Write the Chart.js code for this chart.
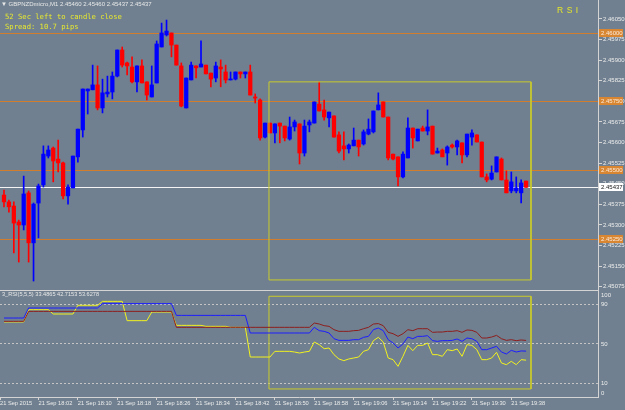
<!DOCTYPE html>
<html>
<head>
<meta charset="utf-8">
<script src="https://cdn.jsdelivr.net/npm/chart.js@4.4.0/dist/chart.umd.min.js"></script>
<style>
  html, body { margin: 0; padding: 0; background: #708090; }
  #wrap { position: relative; width: 625px; height: 410px; overflow: hidden; background: #708090; font-family: "Liberation Sans", Arial, sans-serif; }
  canvas { position: absolute; left: 0; }
  #main { top: 0; }
  #rsi { top: 289px; }
  .txt { position: absolute; white-space: nowrap; line-height: 1; }
  #title { left: 1px; top: 1px; font-size: 6px; color: #e8e8e8; }
  .info { left: 5px; font-family: "DejaVu Sans Mono", "Liberation Mono", monospace; font-size: 7.2px; color: #e8e830; }
  #rsiTag { left: 557px; top: 6px; font-size: 8.5px; letter-spacing: 3.5px; color: #e6e628; }
  #rsiTitle { left: 2px; top: 292px; font-size: 5.6px; color: #e8e8e8; }
</style>
</head>
<body>
<div id="wrap">
  <canvas id="main" width="625" height="292"></canvas>
  <canvas id="rsi" width="625" height="121"></canvas>
  <div class="txt" id="title">&#9660; GBPNZDmicro,M1 2.45460 2.45460 2.45437 2.45437</div>
  <div class="txt info" style="top:13px">52 Sec left to candle close</div>
  <div class="txt info" style="top:23px">Spread: 10.7 pips</div>
  <div class="txt" id="rsiTag">RSI</div>
  <div class="txt" id="rsiTitle">3_RSI(5,5,5) 33.4865 42.7153 53.6278</div>
</div>
<script>
// M1 bars, first bar 17:55
const firstBar = '17:55';

const opens = [
  2.45409, 2.45384, 2.45369, 2.45311, 2.45300, 2.45417, 2.45235, 2.45380, 2.45446, 2.45551,
  2.45580, 2.45540, 2.45526, 2.45406, 2.45435, 2.45548, 2.45646, 2.45788, 2.45792, 2.45810,
  2.45726, 2.45777, 2.45784, 2.45842, 2.45937, 2.45890, 2.45875, 2.45821, 2.45879, 2.45821,
  2.45766, 2.45817, 2.45948, 2.45992, 2.45999, 2.45955, 2.45879, 2.45726, 2.45828, 2.45879,
  2.45875, 2.45882, 2.45853, 2.45835, 2.45875, 2.45857, 2.45828, 2.45831, 2.45857, 2.45850,
  2.45857, 2.45766, 2.45755, 2.45620, 2.45671, 2.45635, 2.45671, 2.45660, 2.45613, 2.45657,
  2.45668, 2.45562, 2.45664, 2.45671, 2.45740, 2.45719, 2.45690, 2.45697, 2.45628, 2.45588,
  2.45577, 2.45588, 2.45609, 2.45595, 2.45631, 2.45639, 2.45719, 2.45748, 2.45693, 2.45558,
  2.45548, 2.45475, 2.45544, 2.45653, 2.45606, 2.45653, 2.45642, 2.45660, 2.45562, 2.45573,
  2.45562, 2.45591, 2.45584, 2.45599, 2.45555, 2.45620, 2.45628, 2.45602, 2.45475, 2.45467,
  2.45493, 2.45540, 2.45464, 2.45424, 2.45424, 2.45417, 2.45460
];
const highs = [
  2.45427, 2.45391, 2.45384, 2.45318, 2.45478, 2.45424, 2.45380, 2.45449, 2.45588, 2.45588,
  2.45584, 2.45609, 2.45529, 2.45446, 2.45551, 2.45649, 2.45795, 2.45795, 2.45882, 2.45879,
  2.45831, 2.45842, 2.45857, 2.45937, 2.45948, 2.45893, 2.45912, 2.45879, 2.45901, 2.45821,
  2.45879, 2.45970, 2.46035, 2.46046, 2.45999, 2.45955, 2.45890, 2.45835, 2.45893, 2.45879,
  2.45970, 2.45882, 2.45853, 2.45893, 2.45901, 2.45882, 2.45857, 2.45857, 2.45857, 2.45857,
  2.45882, 2.45777, 2.45759, 2.45671, 2.45671, 2.45668, 2.45671, 2.45660, 2.45693, 2.45682,
  2.45668, 2.45682, 2.45682, 2.45748, 2.45821, 2.45755, 2.45711, 2.45697, 2.45639, 2.45639,
  2.45595, 2.45653, 2.45609, 2.45646, 2.45686, 2.45715, 2.45781, 2.45748, 2.45693, 2.45558,
  2.45548, 2.45566, 2.45690, 2.45653, 2.45649, 2.45660, 2.45719, 2.45660, 2.45580, 2.45577,
  2.45588, 2.45595, 2.45609, 2.45599, 2.45631, 2.45646, 2.45628, 2.45602, 2.45486, 2.45515,
  2.45548, 2.45544, 2.45497, 2.45493, 2.45475, 2.45464, 2.45460
];
const lows = [
  2.45366, 2.45347, 2.45198, 2.45165, 2.45282, 2.45165, 2.45096, 2.45253, 2.45438, 2.45544,
  2.45457, 2.45493, 2.45395, 2.45376, 2.45435, 2.45529, 2.45620, 2.45704, 2.45792, 2.45719,
  2.45708, 2.45766, 2.45759, 2.45839, 2.45875, 2.45846, 2.45817, 2.45784, 2.45817, 2.45755,
  2.45766, 2.45817, 2.45948, 2.45988, 2.45912, 2.45882, 2.45730, 2.45726, 2.45828, 2.45835,
  2.45875, 2.45850, 2.45803, 2.45821, 2.45803, 2.45817, 2.45828, 2.45828, 2.45835, 2.45835,
  2.45773, 2.45744, 2.45609, 2.45617, 2.45635, 2.45599, 2.45599, 2.45606, 2.45609, 2.45642,
  2.45522, 2.45551, 2.45639, 2.45671, 2.45715, 2.45682, 2.45657, 2.45620, 2.45562, 2.45537,
  2.45562, 2.45588, 2.45551, 2.45591, 2.45628, 2.45635, 2.45719, 2.45693, 2.45537, 2.45537,
  2.45442, 2.45471, 2.45544, 2.45580, 2.45606, 2.45642, 2.45628, 2.45558, 2.45562, 2.45548,
  2.45518, 2.45580, 2.45555, 2.45526, 2.45548, 2.45591, 2.45602, 2.45475, 2.45457, 2.45464,
  2.45493, 2.45464, 2.45417, 2.45417, 2.45417, 2.45380, 2.45437
];
const closes = [
  2.45384, 2.45366, 2.45307, 2.45300, 2.45413, 2.45235, 2.45376, 2.45442, 2.45558, 2.45573,
  2.45533, 2.45526, 2.45406, 2.45438, 2.45551, 2.45649, 2.45795, 2.45795, 2.45810, 2.45726,
  2.45781, 2.45784, 2.45842, 2.45937, 2.45882, 2.45879, 2.45821, 2.45879, 2.45817, 2.45773,
  2.45810, 2.45959, 2.45999, 2.46006, 2.45955, 2.45882, 2.45733, 2.45835, 2.45882, 2.45872,
  2.45886, 2.45850, 2.45831, 2.45879, 2.45868, 2.45828, 2.45831, 2.45857, 2.45850, 2.45857,
  2.45773, 2.45762, 2.45617, 2.45671, 2.45635, 2.45668, 2.45660, 2.45617, 2.45657, 2.45675,
  2.45562, 2.45660, 2.45675, 2.45748, 2.45715, 2.45693, 2.45711, 2.45620, 2.45569, 2.45577,
  2.45591, 2.45609, 2.45584, 2.45639, 2.45649, 2.45715, 2.45737, 2.45693, 2.45544, 2.45540,
  2.45475, 2.45558, 2.45653, 2.45617, 2.45649, 2.45642, 2.45657, 2.45558, 2.45569, 2.45548,
  2.45584, 2.45584, 2.45606, 2.45555, 2.45631, 2.45635, 2.45602, 2.45475, 2.45464, 2.45489,
  2.45548, 2.45464, 2.45417, 2.45457, 2.45435, 2.45453, 2.45437
];

// 3_RSI(5,5,5)
const rsi1 = [
  72.5, 72.5, 72.5, 72.5, 72.5, 85.0, 85.0, 85.0, 85.0, 85.0,
  80.6, 80.6, 80.6, 80.6, 80.6, 89.5, 89.5, 89.5, 89.5, 89.5,
  93.5, 93.5, 93.5, 93.5, 93.5, 73.8, 73.8, 73.8, 73.8, 73.8,
  82.6, 82.6, 82.6, 82.6, 82.6, 69.0, 69.0, 69.0, 69.0, 69.0,
  69.0, 68.0, 68.0, 68.0, 68.0, 68.0, 67.0, 67.0, 67.0, 67.0,
  36.7, 36.7, 36.7, 36.7, 36.7, 42.5, 42.5, 42.5, 42.5, 41.8,
  40.8, 41.8, 42.5, 52.0, 49.3, 45.2, 45.9, 39.1, 34.7, 33.0,
  34.7, 35.7, 36.7, 42.5, 44.2, 53.4, 56.8, 52.0, 35.7, 34.0,
  27.2, 37.4, 48.6, 43.2, 48.6, 48.6, 51.0, 39.1, 39.1, 37.4,
  44.2, 43.2, 44.9, 37.4, 49.3, 48.6, 44.2, 34.0, 34.0, 35.7,
  41.5, 30.6, 28.9, 32.3, 28.9, 34.0, 33.4865
];
const rsi2 = [
  76.5, 76.5, 76.5, 76.5, 76.5, 86.7, 86.7, 86.7, 86.7, 86.7,
  86.7, 86.7, 86.7, 86.7, 86.7, 86.7, 86.7, 86.7, 86.7, 86.7,
  91.2, 91.2, 91.2, 91.2, 91.2, 91.2, 91.2, 91.2, 91.2, 91.2,
  91.2, 91.2, 91.2, 91.2, 91.2, 79.2, 79.2, 79.2, 79.2, 79.2,
  79.2, 79.2, 79.2, 79.2, 79.2, 79.2, 79.2, 79.2, 79.2, 79.2,
  61.2, 61.2, 61.2, 61.2, 61.2, 61.2, 61.2, 61.2, 61.2, 61.2,
  61.2, 61.2, 61.2, 67.0, 63.6, 62.9, 61.2, 55.4, 53.7, 53.7,
  53.7, 54.4, 54.4, 56.8, 57.8, 64.6, 66.3, 63.6, 54.4, 51.0,
  45.9, 50.0, 57.1, 55.4, 57.8, 57.8, 58.5, 53.4, 52.7, 53.4,
  53.4, 53.7, 55.1, 52.7, 56.1, 55.4, 52.7, 44.2, 44.2, 45.9,
  47.6, 41.8, 39.8, 43.5, 41.8, 42.9, 42.7153
];
const rsi3 = [
  73.1, 73.1, 73.1, 73.1, 73.1, 83.3, 83.3, 83.3, 83.3, 83.3,
  83.3, 83.3, 83.3, 83.3, 83.3, 83.3, 83.3, 83.3, 83.3, 83.3,
  83.3, 83.3, 83.3, 83.3, 83.3, 83.3, 83.3, 83.3, 83.3, 83.3,
  83.3, 83.3, 83.3, 83.3, 83.3, 67.0, 67.0, 67.0, 67.0, 67.0,
  67.0, 67.0, 67.0, 67.0, 67.0, 67.0, 67.0, 67.0, 67.0, 67.0,
  67.0, 67.0, 67.0, 67.0, 67.0, 67.0, 67.0, 67.0, 67.0, 67.0,
  67.0, 67.0, 67.0, 71.4, 70.4, 68.7, 68.0, 64.6, 62.9, 62.9,
  62.9, 63.6, 63.9, 65.6, 67.0, 70.4, 70.8, 68.7, 61.9, 60.5,
  57.8, 60.5, 64.6, 63.6, 65.6, 65.6, 65.6, 61.9, 62.2, 62.2,
  62.9, 62.9, 63.6, 61.9, 64.3, 63.9, 61.9, 56.1, 56.1, 57.1,
  58.8, 55.4, 53.7, 54.4, 53.4, 54.1, 53.6278
];

const priceTicks = [2.46050, 2.45975, 2.45900, 2.45825, 2.45750, 2.45675, 2.45600,
  2.45525, 2.45450, 2.45375, 2.45300, 2.45225, 2.45150, 2.45075];
const rsiTicks = [0, 10, 50, 90, 100];
const rsiLevels = [10, 50, 90];
const timeTicks = ['21 Sep 2015', '21 Sep 18:02', '21 Sep 18:10', '21 Sep 18:18', '21 Sep 18:26',
  '21 Sep 18:34', '21 Sep 18:42', '21 Sep 18:50', '21 Sep 18:58', '21 Sep 19:06',
  '21 Sep 19:14', '21 Sep 19:22', '21 Sep 19:30', '21 Sep 19:38'];

// horizontal lines and the bid
const levels = [2.46000, 2.45750, 2.45500, 2.45250];
const bid = closes[closes.length - 1];

// rectangles (bar index / price, bar index / rsi)
const boxMain = { from: 53.8, to: 107, top: 2.45821, bottom: 2.45100 };
const boxRsi = { from: 53.8, to: 107, top: 98.7, bottom: 4.1 };

const xMin = -0.81, xMax = 120.6;
const axisColor = '#d4d4d4';
const textColor = '#ececec';
const levelColor = '#d27d2e';
const bullColor = '#0000ff';
const bearColor = '#ff0000';

const mins = s => { const p = s.split(':'); return +p[0] * 60 + +p[1]; };
const tickBars = timeTicks.map(t => t.includes(':') ? mins(t.slice(-5)) - mins(firstBar) : xMin);

const candleColor = ctx => closes[ctx.dataIndex] >= opens[ctx.dataIndex] ? bullColor : bearColor;
const rectPoints = b => [
  { x: b.from, y: b.top }, { x: b.to, y: b.top }, { x: b.to, y: b.bottom },
  { x: b.from, y: b.bottom }, { x: b.from, y: b.top }
];
const series = arr => arr.map((v, i) => ({ x: i, y: v }));
const smallFont = { family: 'Liberation Sans', size: 6 };
// no extra room for half labels at the ends of an axis
const noPad = s => { s.paddingTop = 0; s.paddingBottom = 0; s.paddingLeft = 0; s.paddingRight = 0; };

const levelsPlugin = {
  id: 'levels',
  beforeDatasetsDraw(chart) {
    const { ctx, chartArea: a, scales: { y } } = chart;
    ctx.save();
    ctx.lineWidth = 1;
    levels.forEach(v => {
      const py = Math.round(y.getPixelForValue(v)) + 0.5;
      ctx.strokeStyle = levelColor;
      ctx.beginPath(); ctx.moveTo(a.left, py); ctx.lineTo(a.right, py); ctx.stroke();
    });
    const by = Math.round(y.getPixelForValue(bid)) + 0.5;
    ctx.strokeStyle = '#f4f4f4';
    ctx.beginPath(); ctx.moveTo(a.left, by); ctx.lineTo(a.right, by); ctx.stroke();
    ctx.restore();
  },
  afterDraw(chart) {
    const { ctx, chartArea: a, scales: { y } } = chart;
    ctx.save();
    ctx.font = '6px "Liberation Sans"';
    ctx.textBaseline = 'middle';
    const tag = (v, bg, fg) => {
      const py = Math.round(y.getPixelForValue(v));
      ctx.fillStyle = bg;
      ctx.fillRect(a.right + 1, py - 4, 24, 8);
      ctx.fillStyle = fg;
      ctx.fillText(v.toFixed(5), a.right + 3, py + 0.5);
    };
    levels.forEach(v => tag(v, '#d98632', '#fbead8'));
    tag(bid, '#ffffff', '#202020');
    ctx.restore();
  }
};

new Chart(document.getElementById('main'), {
  type: 'bar',
  data: {
    datasets: [
      { type: 'line', data: rectPoints(boxMain), borderColor: '#caca2a', borderWidth: 1, pointRadius: 0, tension: 0 },
      { data: opens.map((o, i) => ({ x: i, y: [o, closes[i]] })), backgroundColor: candleColor,
        barThickness: 3.6, minBarLength: 1, grouped: false, borderWidth: 0 },
      { data: lows.map((l, i) => ({ x: i, y: [l, highs[i]] })), backgroundColor: candleColor,
        barThickness: 1, grouped: false, borderWidth: 0 }
    ]
  },
  options: {
    responsive: false,
    animation: false,
    layout: { padding: { top: 0, bottom: 3, left: 0, right: 0 } },
    plugins: { legend: { display: false }, tooltip: { enabled: false } },
    scales: {
      x: { type: 'linear', min: xMin, max: xMax, offset: false, display: false },
      y: {
        position: 'right', min: 2.45067, max: 2.46119, beginAtZero: false,
        afterBuildTicks: s => { s.ticks = priceTicks.map(v => ({ value: v })); },
        afterFit: s => { s.width = 27; noPad(s); },
        ticks: { autoSkip: false, color: textColor, font: smallFont, padding: 1, callback: v => v.toFixed(5) },
        grid: { drawOnChartArea: false, drawTicks: true, tickLength: 4, tickColor: axisColor },
        border: { display: true, color: axisColor }
      }
    }
  },
  plugins: [levelsPlugin]
});

const framePlugin = {
  id: 'frame',
  afterDraw(chart) {
    const { ctx, chartArea: a } = chart;
    ctx.save();
    ctx.strokeStyle = axisColor;
    ctx.lineWidth = 1;
    ctx.beginPath(); ctx.moveTo(0, a.top + 0.5); ctx.lineTo(a.right, a.top + 0.5); ctx.stroke();
    ctx.restore();
  }
};

new Chart(document.getElementById('rsi'), {
  type: 'line',
  data: {
    datasets: [
      { data: series(rsi3), borderColor: '#8e1d1d' },
      { data: series(rsi2), borderColor: '#1c1cff' },
      { data: series(rsi1), borderColor: '#f2f21e' },
      { data: rectPoints(boxRsi), borderColor: '#caca2a' }
    ]
  },
  options: {
    responsive: false,
    animation: false,
    layout: { padding: { top: 1, bottom: 0, left: 0, right: 0 } },
    elements: { point: { radius: 0 }, line: { borderWidth: 1, tension: 0 } },
    plugins: { legend: { display: false }, tooltip: { enabled: false } },
    scales: {
      x: {
        type: 'linear', min: xMin, max: xMax,
        afterBuildTicks: s => { s.ticks = tickBars.map(v => ({ value: v })); },
        afterFit: s => { s.height = 13; noPad(s); },
        ticks: { autoSkip: false, maxRotation: 0, align: 'start', padding: 0, color: textColor,
          font: { family: 'Liberation Sans', size: 5.7 }, callback: (v, i) => timeTicks[i] },
        grid: { drawOnChartArea: false, tickLength: 3, tickColor: axisColor },
        border: { display: true, color: axisColor }
      },
      y: {
        position: 'right', min: -4.1, max: 105.1,
        afterBuildTicks: s => { s.ticks = rsiTicks.map(v => ({ value: v })); },
        afterFit: s => { s.width = 27; noPad(s); },
        ticks: { autoSkip: false, color: textColor, font: smallFont, padding: 3 },
        grid: { drawTicks: false, color: c => rsiLevels.includes(c.tick && c.tick.value) ? '#c4c4c4' : 'rgba(0,0,0,0)' },
        border: { display: true, color: axisColor, dash: [2, 2] }
      }
    }
  },
  plugins: [framePlugin]
});
</script>
</body>
</html>
